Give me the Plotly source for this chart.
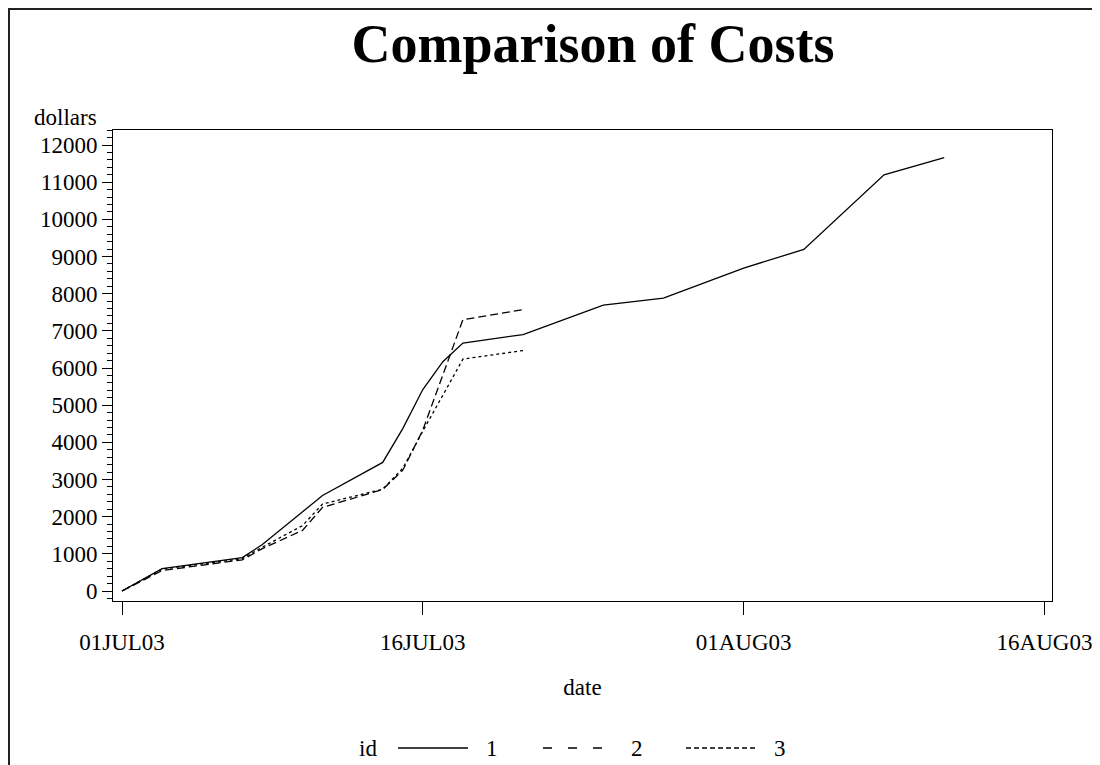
import plotly.graph_objects as go

# ---- data ----
dates_1 = ["2003-07-01", "2003-07-03", "2003-07-07", "2003-07-08", "2003-07-11", "2003-07-14",
           "2003-07-15", "2003-07-16", "2003-07-17", "2003-07-18", "2003-07-21", "2003-07-25",
           "2003-07-28", "2003-08-01", "2003-08-04", "2003-08-08", "2003-08-11"]
cost_1 = [0, 600, 900, 1250, 2570, 3460, 4370, 5420, 6170, 6670, 6900, 7690, 7880, 8690, 9190, 11200, 11660]

dates_2 = ["2003-07-01", "2003-07-03", "2003-07-07", "2003-07-08", "2003-07-10", "2003-07-11",
           "2003-07-14", "2003-07-15", "2003-07-16", "2003-07-17", "2003-07-18", "2003-07-21"]
cost_2 = [0, 550, 840, 1140, 1630, 2250, 2730, 3250, 4330, 5800, 7300, 7570]

dates_3 = ["2003-07-01", "2003-07-03", "2003-07-07", "2003-07-08", "2003-07-10", "2003-07-11",
           "2003-07-14", "2003-07-15", "2003-07-16", "2003-07-17", "2003-07-18", "2003-07-21"]
cost_3 = [0, 590, 870, 1180, 1760, 2340, 2740, 3300, 4300, 5250, 6240, 6470]

ids = ["1", "2", "3"]
x_tick_vals = ["2003-07-01", "2003-07-16", "2003-08-01", "2003-08-16"]
x_tick_text = ["01JUL03", "16JUL03", "01AUG03", "16AUG03"]
y_tick_vals = list(range(0, 12001, 1000))

# ---- styling ----
FONT = "Liberation Serif, Times New Roman, serif"
OFF = 8                      # page offset of the figure (body margin)
W, H = 1092, 757
L, R, T, B = 105, 48, 122, 164
PW, PH = W - L - R, H - T - B
LABEL_SIZE = 23

plot_dashes = ["solid", "8px,4px", "3px,3px"]
legend_dashes = ["solid", "9px,16px", "5px,3px"]

def px(x):  # page x -> paper x
    return (x - OFF - L) / PW

def py(y):  # page y -> paper y
    return (H - B - (y - OFF)) / PH

fig = go.Figure()
series = [(dates_1, cost_1), (dates_2, cost_2), (dates_3, cost_3)]
for (d, c), name, dash in zip(series, ids, plot_dashes):
    fig.add_trace(go.Scatter(x=d, y=c, mode="lines", name=name,
                             line=dict(color="black", width=1.3, dash=dash),
                             showlegend=False))

fig.update_layout(
    width=W, height=H, autosize=False,
    margin=dict(l=L, r=R, t=T, b=B, autoexpand=False),
    paper_bgcolor="white", plot_bgcolor="white",
    font=dict(family=FONT, size=LABEL_SIZE, color="black"),
    title=dict(text="<b>Comparison of Costs</b>", font=dict(family=FONT, size=54, color="black"),
               x=px(593), xref="paper", xanchor="center",
               y=1 - 35 / H, yref="container", yanchor="middle"),
)

fig.update_xaxes(
    type="date", automargin=False,
    range=["2003-06-30 13:14", "2003-08-16 09:00"],
    tickvals=x_tick_vals, ticktext=x_tick_text,
    ticks="outside", ticklen=13, tickwidth=1, tickcolor="black",
    showline=True, mirror=True, linecolor="black", linewidth=1,
    showgrid=False, zeroline=False,
    tickfont=dict(family=FONT, size=LABEL_SIZE, color="black"),
    ticklabelstandoff=7,
    title=dict(text="date", font=dict(family=FONT, size=LABEL_SIZE, color="black"), standoff=25),
)
fig.update_yaxes(
    automargin=False,
    range=[-269, 12404],
    tickvals=y_tick_vals, tickformat="d",
    ticks="outside", ticklen=10, tickwidth=1, tickcolor="black",
    minor=dict(dtick=200, ticks="outside", ticklen=5, tickwidth=1, tickcolor="black", showgrid=False),
    showline=True, mirror=True, linecolor="black", linewidth=1,
    showgrid=False, zeroline=False,
    tickfont=dict(family=FONT, size=LABEL_SIZE, color="black"),
)

# y-axis label above the axis
fig.add_annotation(text="dollars", xref="paper", yref="paper", x=px(99), y=py(117),
                   xanchor="right", yanchor="middle", showarrow=False,
                   font=dict(family=FONT, size=LABEL_SIZE, color="black"))

# legend (drawn to match the long SAS line samples)
LEG_Y = 748
fig.add_annotation(text="id", xref="paper", yref="paper", x=px(368), y=py(LEG_Y),
                   xanchor="center", yanchor="middle", showarrow=False,
                   font=dict(family=FONT, size=LABEL_SIZE, color="black"))
leg_x0 = [398, 543, 686]
for i, (name, dash) in enumerate(zip(ids, legend_dashes)):
    x0 = leg_x0[i]
    fig.add_shape(type="line", xref="paper", yref="paper",
                  x0=px(x0), x1=px(x0 + 70), y0=py(LEG_Y), y1=py(LEG_Y),
                  line=dict(color="black", width=1.3, dash=dash))
    fig.add_annotation(text=name, xref="paper", yref="paper", x=px(x0 + 94), y=py(LEG_Y),
                       xanchor="center", yanchor="middle", showarrow=False,
                       font=dict(family=FONT, size=LABEL_SIZE, color="black"))

# outer frame (top and left edges)
fig.add_shape(type="line", xref="paper", yref="paper", x0=px(OFF), x1=px(OFF + W), y0=py(OFF + 1), y1=py(OFF + 1),
              line=dict(color="#222", width=2))
fig.add_shape(type="line", xref="paper", yref="paper", x0=px(OFF + 1), x1=px(OFF + 1), y0=py(OFF), y1=py(OFF + H),
              line=dict(color="#222", width=2))

fig.write_html("out.html")
